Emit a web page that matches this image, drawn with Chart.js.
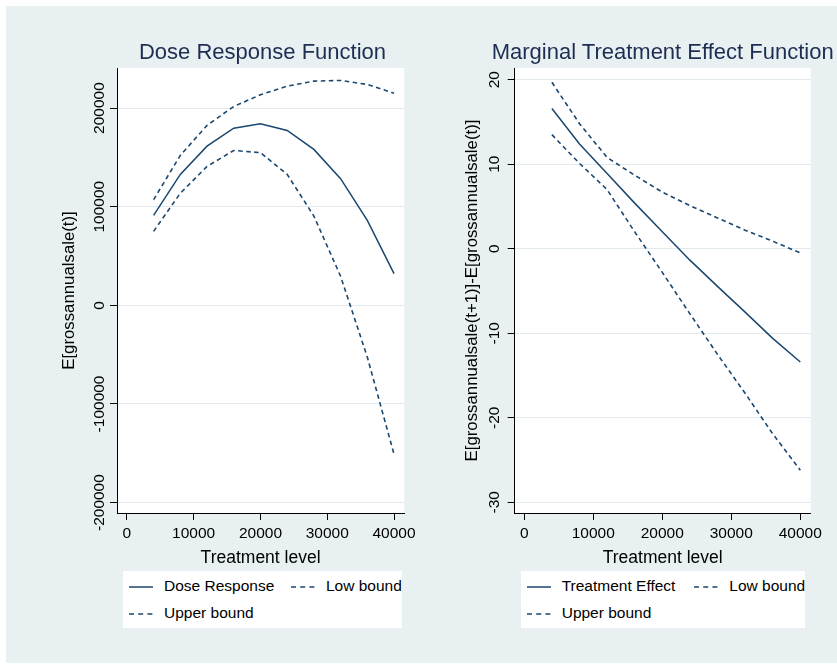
<!DOCTYPE html>
<html>
<head>
<meta charset="utf-8">
<script src="https://cdn.jsdelivr.net/npm/chart.js@4.4.1/dist/chart.umd.min.js"></script>
<style>
html,body{margin:0;padding:0;background:#ffffff;}
body{width:837px;height:666px;position:relative;overflow:hidden;font-family:"Liberation Sans",Arial,sans-serif;}
#bg{position:absolute;left:6px;top:6px;width:831px;height:657px;background:#e8f0f2;}
canvas{position:absolute;top:0;}
.title{position:absolute;top:39.4px;width:600px;text-align:center;font-size:22px;line-height:26px;color:#1e2d52;white-space:nowrap;}
.legend{position:absolute;top:571px;height:57px;background:#ffffff;}
.lt{position:absolute;font-size:15.5px;line-height:18px;color:#000;white-space:nowrap;}
svg.ls{position:absolute;overflow:visible;}
</style>
</head>
<body>
<div id="bg"></div>
<canvas id="c1" width="420" height="570" style="left:0px;width:420px;height:570px;"></canvas>
<canvas id="c2" width="417" height="570" style="left:420px;width:417px;height:570px;"></canvas>
<div class="title" style="left:-37.5px;">Dose Response Function</div>
<div class="title" style="left:362.7px;">Marginal Treatment Effect Function</div>

<div class="legend" style="left:123px;width:279px;"></div>
<div class="legend" style="left:521px;width:284px;"></div>
<div id="legends"></div>

<script>
// ---------- data ----------
const treatLevels = [4000, 8000, 12000, 16000, 20000, 24000, 28000, 32000, 36000, 40000];

const doseResponse = [91200, 132700, 161400, 179600, 184100, 177300, 158100, 128400, 86100, 32100];
const doseLow      = [75000, 113600, 140800, 157000, 154800, 132800, 90500, 29500, -52500, -151000];
const doseUpper    = [107100, 152000, 182400, 201600, 213500, 222200, 227300, 228000, 223900, 215100];

const effect      = [16.6, 12.4, 8.9, 5.4, 2.0, -1.35, -4.45, -7.5, -10.6, -13.4];
const effectLow   = [13.5, 10.1, 7.0, 2.0, -2.8, -7.7, -12.5, -17.1, -21.9, -26.2];
const effectUpper = [19.7, 14.8, 10.8, 8.7, 6.7, 5.1, 3.65, 2.2, 0.9, -0.5];

const xTickValues      = [0, 10000, 20000, 30000, 40000];
const doseYTickValues  = [-200000, -100000, 0, 100000, 200000];
const effectYTickValues = [-30, -20, -10, 0, 10, 20];

const xAxisTitle = 'Treatment level';
const doseYTitle = 'E[grossannualsale(t)]';
const effectYTitle = 'E[grossannualsale(t+1)]-E[grossannualsale(t)]';

const doseLegend = ['Dose Response', 'Low bound', 'Upper bound'];
const effectLegend = ['Treatment Effect', 'Low bound', 'Upper bound'];

// ---------- styling ----------
const FONT = '"Liberation Sans", Arial, sans-serif';
const LINE = '#1a476f';
const GRID = '#e1eaee';
const DASH = [4.5, 3.5];

const plotBg = {
  id: 'plotBg',
  beforeDraw(chart) {
    const a = chart.chartArea, ctx = chart.ctx;
    ctx.save();
    ctx.fillStyle = '#ffffff';
    ctx.fillRect(a.left, a.top, a.right - a.left, a.bottom - a.top);
    ctx.restore();
  }
};

function pts(ys) { return treatLevels.map((t, i) => ({x: t, y: ys[i]})); }

function makeChart(id, series, cfg) {
  const datasets = series.map(s => ({
    label: s.label,
    data: pts(s.values),
    borderColor: LINE,
    borderWidth: s.dash ? 1.6 : 1.5,
    borderDash: s.dash ? DASH : [],
    pointRadius: 0,
    fill: false,
    tension: 0
  }));
  return new Chart(document.getElementById(id), {
    type: 'line',
    data: {datasets},
    plugins: [plotBg],
    options: {
      responsive: false,
      animation: false,
      devicePixelRatio: 1,
      layout: {padding: cfg.padding},
      plugins: {legend: {display: false}, title: {display: false}, tooltip: {enabled: false}},
      scales: {
        x: {
          type: 'linear',
          min: cfg.xMin, max: cfg.xMax,
          afterBuildTicks: s => { s.ticks = xTickValues.map(v => ({value: v})); },
          afterFit: s => { s.height = 56; },
          grid: {drawOnChartArea: false, drawTicks: true, tickLength: 7, color: '#000', tickColor: '#000', lineWidth: 1},
          border: {display: true, color: '#000', width: 1},
          ticks: {font: {family: FONT, size: 15.5}, color: '#000', padding: 4, minRotation: 0, maxRotation: 0, autoSkip: false,
                  callback: v => String(v)},
          title: {display: true, text: xAxisTitle, font: {family: FONT, size: 17.5}, color: '#000', padding: 0}
        },
        y: {
          type: 'linear',
          min: cfg.yMin, max: cfg.yMax,
          afterBuildTicks: s => { s.ticks = cfg.yTicks.map(v => ({value: v})); },
          afterFit: s => { s.width = cfg.yWidth; },
          grid: {color: GRID, lineWidth: 1, drawTicks: true, tickLength: 7, tickColor: '#000', tickWidth: 1},
          border: {display: true, color: '#000', width: 1},
          ticks: {font: {family: FONT, size: 15.5}, color: '#000', padding: cfg.tickPad, minRotation: 90, maxRotation: 90,
                  crossAlign: 'center', autoSkip: false, callback: v => String(v)},
          title: {display: true, text: cfg.yTitle, font: {family: FONT, size: 16.8}, color: '#000', padding: 0}
        }
      }
    }
  });
}

makeChart('c1', [
  {label: doseLegend[0], values: doseResponse, dash: false},
  {label: doseLegend[1], values: doseLow, dash: true},
  {label: doseLegend[2], values: doseUpper, dash: true}
], {
  padding: {left: 59.1, right: 12, top: 68, bottom: 1},
  yWidth: 57.9, tickPad: -17.9,
  xMin: -1478, xMax: 41522,
  yMin: -210560, yMax: 240600,
  yTicks: doseYTickValues, yTitle: doseYTitle
});

makeChart('c2', [
  {label: effectLegend[0], values: effect, dash: false},
  {label: effectLegend[1], values: effectLow, dash: true},
  {label: effectLegend[2], values: effectUpper, dash: true}
], {
  padding: {left: 42.1, right: 26.3, top: 68, bottom: 1},
  yWidth: 52.6, tickPad: 1.5,
  xMin: -1391, xMax: 41507,
  yMin: -31.27, yMax: 21.39,
  yTicks: effectYTickValues, yTitle: effectYTitle
});

// ---------- HTML legends ----------
function legendItems(names, sx, tx, sx2, tx2) {
  const rows = [
    {sample: sx, text: tx, y: 587, base: 577, name: names[0], dash: false},
    {sample: sx2, text: tx2, y: 587, base: 577, name: names[1], dash: true},
    {sample: sx, text: tx, y: 613.5, base: 604.3, name: names[2], dash: true}
  ];
  let html = '';
  rows.forEach(r => {
    html += '<svg class="ls" width="24" height="4" style="left:' + r.sample + 'px;top:' + (r.y - 2) + 'px">' +
      '<line x1="0" y1="2" x2="24" y2="2" stroke="' + LINE + '" stroke-width="1.5"' +
      (r.dash ? ' stroke-dasharray="5 4.2"' : '') + '/></svg>';
    html += '<div class="lt" style="left:' + r.text + 'px;top:' + r.base + 'px">' + r.name + '</div>';
  });
  return html;
}
document.getElementById('legends').innerHTML =
  legendItems(doseLegend, 129.3, 164, 291, 326) +
  legendItems(effectLegend, 526.7, 561.7, 694, 729.3);
</script>
</body>
</html>
